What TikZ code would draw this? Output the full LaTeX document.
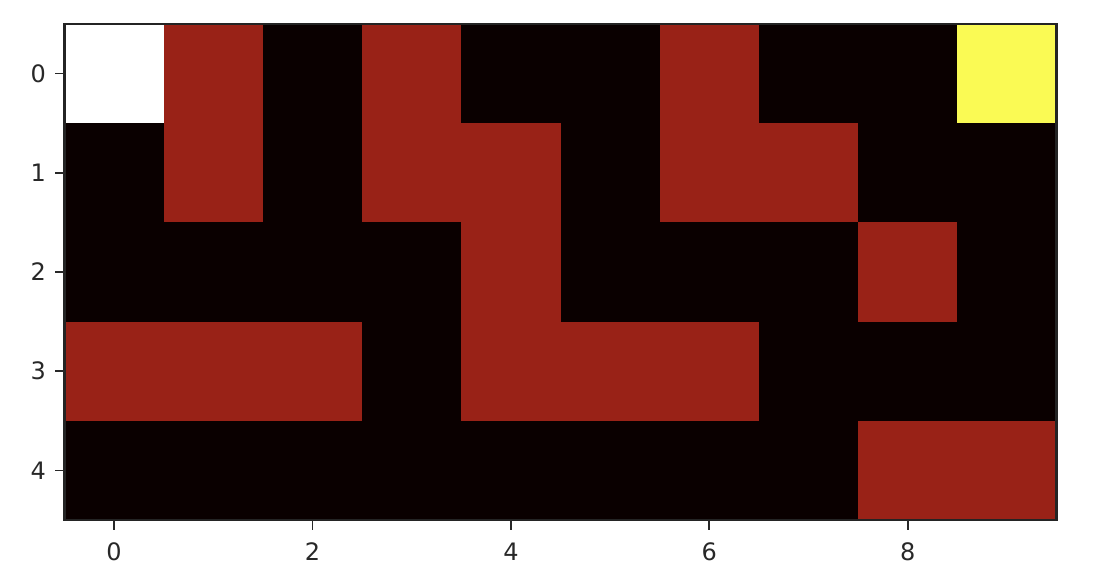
\documentclass[tikz,border=0pt]{standalone}
\usepackage{fontspec}
\setmainfont{DejaVu Sans}
\definecolor{ck}{RGB}{10,0,0}
\definecolor{cr}{RGB}{153,34,23}
\definecolor{cy}{RGB}{250,250,84}
\definecolor{cw}{RGB}{255,255,255}
\definecolor{txt}{RGB}{40,40,40}
\tikzset{
  frame/.style={draw=txt!90!black, line width=1.1pt},
  tickmark/.style={draw=txt, line width=0.9pt},
  ticklabel/.style={font=\fontsize{12}{14}\selectfont, text=txt, inner sep=0pt}
}
\begin{document}
\begin{tikzpicture}[x=0.5pt,y=-0.5pt]
\useasboundingbox (0,0) rectangle (1114,572);
\def\L{64.5}
\def\T{24}
\def\S{99.2}
\foreach \row [count=\r from 0] in {
  {w,r,k,r,k,k,r,k,k,y},
  {k,r,k,r,r,k,r,r,k,k},
  {k,k,k,k,r,k,k,k,r,k},
  {r,r,r,k,r,r,r,k,k,k},
  {k,k,k,k,k,k,k,k,r,r}} {
  \foreach \v [count=\c from 0] in \row {
    \fill[fill=c\v] ({\L+\S*\c},{\T+\S*\r}) rectangle ++(\S,\S);
  }
}
\draw[frame] (\L,\T) rectangle ({\L+10*\S},{\T+5*\S});
\foreach \r in {0,...,4} {
  \coordinate (yt\r) at (\L,{\T+\S*(\r+0.5)});
  \draw[tickmark] (yt\r) -- ++(-9.7,0) node[ticklabel, anchor=east, xshift=-4pt] (yl\r) {\r};
}
\foreach \c in {0,2,4,6,8} {
  \coordinate (xt\c) at ({\L+\S*(\c+0.5)},{\T+5*\S});
  \draw[tickmark] (xt\c) -- ++(0,9.7) node[ticklabel, anchor=north, yshift=-6pt] (xl\c) {\c};
}
\end{tikzpicture}
\end{document}
